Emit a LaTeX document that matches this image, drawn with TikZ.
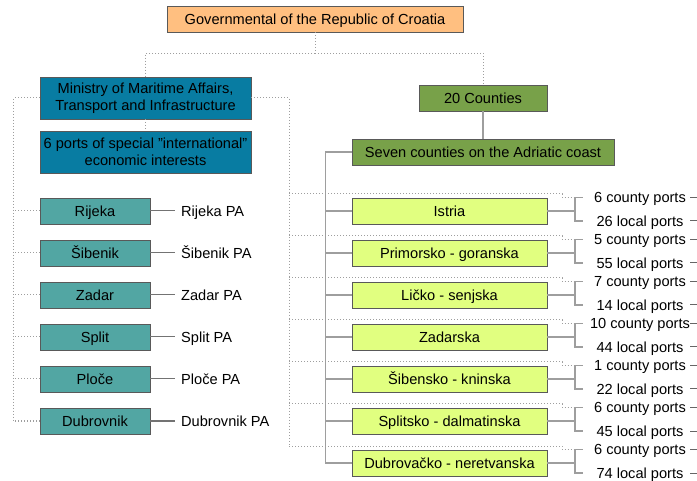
\documentclass[tikz,border=0pt]{standalone}
\usepackage{fontspec}
\setmainfont{Liberation Sans}
\definecolor{govcol}{HTML}{FFBF80}
\definecolor{mincol}{HTML}{087CA2}
\definecolor{portcol}{HTML}{52A6A3}
\definecolor{cntcol}{HTML}{78A149}
\definecolor{ctycol}{HTML}{E1FF80}

\begin{document}
\begin{tikzpicture}[x=1pt, y=-1pt, font=\fontsize{14.6}{16.5}\selectfont,
	box/.style={draw=black!65, inner sep=0pt, minimum height=26pt, align=center},
	oneline/.style={text height=13.2pt, text depth=3.1pt},
	solidline/.style={draw=black!38, line width=1.2pt},
	dotline/.style={draw=black!38, line width=1pt, dash pattern=on 1pt off 2pt},
	portlab/.style={oneline, inner sep=0pt, minimum width=114pt}]
	\useasboundingbox (0,0) rectangle (697,481);
	\node[box, oneline, fill=govcol, minimum width=296pt] (gov) at (315,19) {Governmental of the Republic of Croatia};
	\node[box, fill=mincol, minimum width=211pt, minimum height=42pt] (min) at (145.5,98) {Ministry of Maritime Affairs,\\Transport and Infrastructure};
	\node[box, fill=mincol, minimum width=211pt, minimum height=42pt] (six) at (145.5,152) {6 ports of special "international"\\economic interests};
	\node[box, oneline, fill=cntcol, minimum width=128pt] (cnt) at (483,98) {20 Counties};
	\node[box, oneline, fill=cntcol, minimum width=262pt] (sev) at (483,152) {Seven counties on the Adriatic coast};
	\draw[dotline] (gov.south) -- ++(0,21) coordinate (split) -| (min.north);
	\draw[dotline] (split) -| (cnt.north);
	\draw[dotline] (min.south) -- (six.north);
	\draw[solidline] (cnt.south) -- (sev.north);
	\foreach \name [count=\i from 0] in {Rijeka, Šibenik, Zadar, Split, Ploče, Dubrovnik} {
		\node[box, oneline, fill=portcol, minimum width=110pt] (p\i) at (95,211+42*\i) {\name};
		\node[oneline, anchor=west, inner xsep=6pt, inner ysep=0pt] (pa\i) at (175,211+42*\i) {\name{} PA};
		\draw[solidline, draw=black!55, line width=1pt] (p\i.east) -- (pa\i.west);
		\draw[dotline] (p\i.west) -- ++(-26,0);
	}
	\draw[dotline] (min.west) -| ([xshift=-26pt]p5.west);
	\draw[dotline] (min.east) -- ++(38,0) |- (289,446) coordinate (mbot);
	\draw[solidline] (sev.west) -- ++(-26,0) |- (326,463) coordinate (sbot);
	\foreach \name/\cp/\lp [count=\i from 0] in {Istria/6/26, Primorsko - goranska/5/55, Ličko - senjska/7/14, Zadarska/10/44, Šibensko - kninska/1/22, Splitsko - dalmatinska/6/45, Dubrovačko - neretvanska/6/74} {
		\node[box, oneline, fill=ctycol, minimum width=195pt] (c\i) at (449.5,211+42*\i) {\name};
		\node[portlab] (cp\i) at (640,197.5+42*\i) {\cp{} county ports};
		\node[portlab] (lp\i) at (640,221+42*\i) {\lp{} local ports};
		\coordinate (b\i) at (575,211+42*\i);
		\coordinate (m\i) at (289,194+42*\i);
		\draw[solidline] (c\i.west) -- ++(-26,0);
		\draw[solidline] (c\i.east) -- (b\i);
		\draw[solidline] (cp\i.west) -| (b\i) |- (lp\i.west);
		\draw[dotline] (m\i) -- ++(273,0) -- ++(0,3.5) -- (b\i |- cp\i.west);
		\draw[black!60, line width=1pt] ([xshift=-7pt]cp\i.east) -- (cp\i.east);
		\draw[black!60, line width=1pt] ([xshift=-7pt]lp\i.east) -- (lp\i.east);
	}
\end{tikzpicture}
\end{document}
